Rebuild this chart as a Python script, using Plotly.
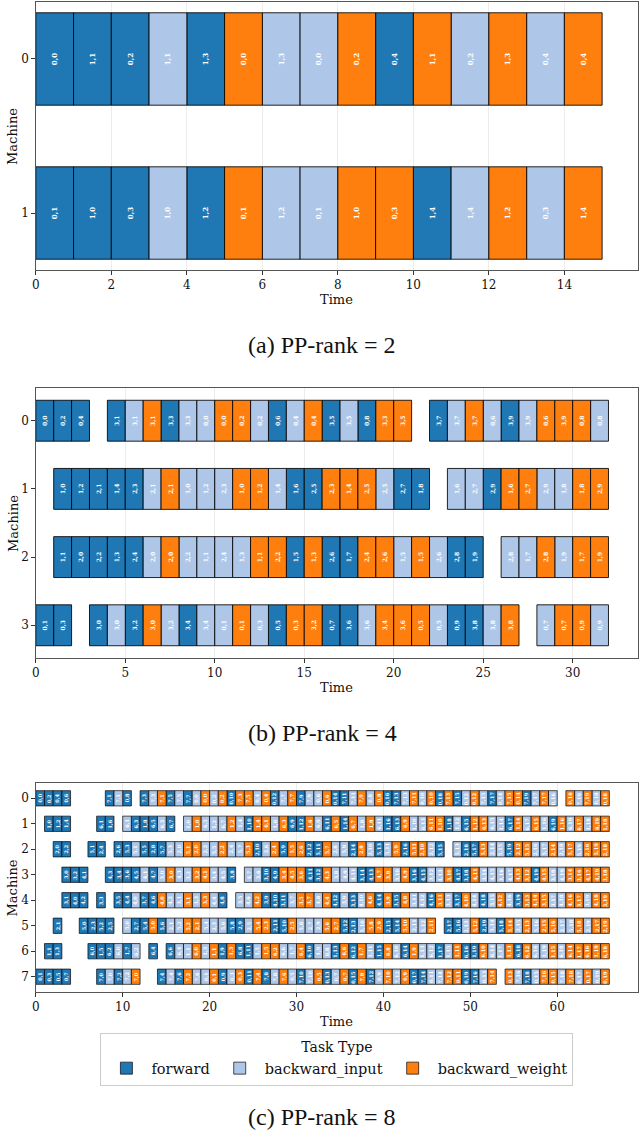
import plotly.graph_objects as go

# ---------------- data ----------------
TYPE_COLORS = {"F": "#1f77b4", "B": "#aec7e8", "W": "#ff7f0e"}
TYPE_NAMES = {"F": "forward", "B": "backward_input", "W": "backward_weight"}
DURATION = 1

# token = <type><stage,microbatch>, "-" = idle slot; one token per time unit
A_M0 = "F0,0 F1,1 F0,2 B1,1 F1,3 W0,0 B1,3 B0,0 W0,2 F0,4 W1,1 B0,2 W1,3 B0,4 W0,4".split()
A_M1 = "F0,1 F1,0 F0,3 B1,0 F1,2 W0,1 B1,2 B0,1 W1,0 W0,3 F1,4 B1,4 W1,2 B0,3 W1,4".split()

B_M0 = ("F0,0 F0,2 F0,4 - F3,1 B3,1 W3,1 F3,3 B3,3 B0,0 W0,0 W0,2 B0,2 F0,6 B0,4 W0,4 "
        "F3,5 B3,5 F0,8 W3,3 W3,5 - F3,7 B3,7 W3,7 B0,6 F3,9 B3,9 W0,6 W3,9 W0,8 B0,8").split()
B_M1 = ("- F1,0 F1,2 F2,1 F1,4 F2,3 B2,1 W2,1 B1,0 B1,2 B2,3 W1,0 W1,2 B1,4 F1,6 F2,5 "
        "W2,3 W1,4 W2,5 B2,5 F2,7 F1,8 - B1,6 B2,7 F2,9 W1,6 W2,7 B2,9 B1,8 W1,8 W2,9").split()
B_M2 = ("- F1,1 F2,0 F2,2 F1,3 F2,4 B2,0 W2,0 B2,2 B1,1 B2,4 B1,3 W1,1 W2,2 F1,5 W1,3 "
        "F2,6 F1,7 W2,4 W2,6 B1,5 W1,5 B2,6 F2,8 F1,9 - B2,8 B1,7 W2,8 B1,9 W1,7 W1,9").split()
B_M3 = ("F0,1 F0,3 - F3,0 B3,0 F3,2 W3,0 B3,2 F3,4 B3,4 B0,1 W0,1 B0,3 F0,5 W0,3 W3,2 "
        "F0,7 F3,6 B3,6 W3,4 W3,6 W0,5 B0,5 F0,9 F3,8 B3,8 W3,8 - B0,7 W0,7 W0,9 B0,9").split()

C_M0 = ("F0,0 F0,2 F0,4 F0,6 - - - - F7,1 B7,1 F0,8 - F7,3 B7,3 W7,1 F7,5 B7,5 F7,7 "
        "B0,0 W0,0 B0,2 W0,2 F0,10 W7,3 W7,5 B0,4 W0,4 F0,12 B7,7 W7,7 F7,9 B7,9 B0,6 W0,6 "
        "F0,14 F7,11 B7,11 W7,9 B0,8 W0,8 F0,16 F7,13 B7,13 W7,11 B0,10 W0,10 F0,18 W7,13 "
        "F7,15 B0,12 W0,12 B7,15 F7,17 B0,14 W7,15 W0,14 F7,19 B7,17 W7,17 B0,16 - W0,16 "
        "B7,19 W7,19 B0,18 W0,18").split()
C_M1 = ("- F1,0 F1,2 F1,4 - - - F6,1 F1,6 - B6,1 F6,3 F1,8 F6,5 B6,3 F6,7 - B1,0 W1,0 "
        "B6,5 B1,2 B6,7 W1,2 B1,4 F1,10 W1,4 W6,1 B1,6 W6,3 F6,9 F1,12 W1,6 B6,9 F6,11 "
        "W6,5 F1,14 W6,7 B1,8 W1,8 B6,11 F1,16 F6,13 W6,9 B1,10 B6,13 W6,11 W1,10 F1,18 "
        "B1,12 F6,15 W1,12 W6,13 B6,15 B1,14 F6,17 W1,14 B6,17 W6,15 B1,16 F6,19 W1,16 "
        "B6,19 W6,17 B1,18 W6,19 W1,18").split()
C_M2 = ("- - F2,0 F2,2 - - F5,1 F2,4 - F2,6 F5,3 B5,1 F5,5 F2,8 F5,7 B5,3 B2,0 W5,1 W2,0 "
        "B2,2 B5,5 W2,2 B2,4 B5,7 W5,3 F2,10 B2,6 W2,4 F5,9 W5,5 W2,6 F2,12 F5,11 W5,7 "
        "B2,8 B5,9 F2,14 W2,8 B2,10 F5,13 B5,11 W5,9 F2,16 W5,11 W2,10 B2,12 F5,15 - "
        "B5,13 F2,18 F5,17 W5,13 B2,14 B5,15 F5,19 W2,12 W5,15 B2,16 B5,17 W2,14 B2,18 "
        "W5,17 B5,19 W2,16 W5,19 W2,18").split()
C_M3 = ("- - - F3,0 F3,2 F4,1 - - F4,3 F3,4 F3,6 F4,5 B4,1 F4,7 B3,0 W3,0 B4,3 B3,2 W3,2 "
        "W4,1 B3,4 B4,5 F3,8 - B4,7 B3,6 F3,10 F4,9 W3,4 W4,5 W3,6 F4,11 F3,12 W4,3 B3,8 "
        "B4,9 B4,11 F3,14 F4,13 W4,7 W3,8 B3,10 W4,9 F3,16 F4,15 B3,12 B4,13 W3,10 F4,17 "
        "F3,18 W4,11 B3,14 B4,15 B3,16 B4,17 W4,13 W3,12 F4,19 W4,15 B3,18 B4,19 W3,14 "
        "W3,16 W4,17 W4,19 W3,18").split()
C_M4 = ("- - - F3,1 F4,0 F4,2 - F3,3 - F3,5 F4,4 B4,0 F3,7 F4,6 W4,0 B4,2 B3,1 W3,1 B3,3 "
        "W3,3 B4,4 F4,8 - B3,5 B4,6 W4,2 F3,9 F4,10 F3,11 B3,7 W3,5 W3,7 B4,8 W4,4 F4,12 "
        "B3,9 F3,13 B4,10 W4,6 F4,14 W3,9 F3,15 W4,8 B3,11 B4,12 F4,16 W3,11 B3,13 F3,17 "
        "W4,10 B4,14 F4,18 B3,15 W4,12 B4,16 F3,19 W3,13 W4,14 W3,15 B3,17 B4,18 W4,16 "
        "W3,17 B3,19 W4,18 W3,19").split()
C_M5 = ("- - F2,1 - - F5,0 F2,3 F5,2 F2,5 - B5,0 F2,7 F5,4 W5,0 F5,6 B2,1 B5,2 W5,2 W2,1 "
        "B5,4 B2,3 B5,6 F5,8 F2,9 B2,5 W5,4 W2,3 F2,11 F5,10 W2,5 B5,8 B2,7 B2,9 W5,6 W2,7 "
        "F5,12 F2,13 B5,10 W5,8 W2,9 F2,15 F5,14 W5,10 B2,11 B5,12 W2,11 - F2,17 F5,16 "
        "B2,13 W5,12 F2,19 B5,14 F5,18 W5,14 B2,15 W2,13 B5,16 W2,15 W5,16 B2,17 B5,18 "
        "W5,18 B2,19 W2,17 W2,19").split()
C_M6 = ("- F1,1 F1,3 - - - F6,0 F1,5 F6,2 B6,0 F1,7 B6,2 - F6,4 - F6,6 B6,4 B1,1 W6,0 "
        "B1,3 W1,1 F1,9 W1,3 F6,8 F1,11 B1,5 W1,5 W6,2 B6,6 B1,7 W6,4 F6,10 B1,9 B6,8 "
        "F1,13 W6,6 F6,12 W1,7 B1,11 F1,15 W6,8 B6,10 F6,14 W1,9 B1,13 B6,12 F1,17 B1,15 "
        "W1,11 F6,16 F1,19 W6,10 B6,14 B1,17 W1,13 F6,18 W6,12 B6,16 B1,19 W1,15 B6,18 "
        "W6,14 W1,17 W6,16 W1,19 W6,18").split()
C_M7 = ("F0,1 F0,3 F0,5 F0,7 - - - F7,0 B7,0 F7,2 B7,2 W7,0 - - F7,4 B7,4 F7,6 W7,2 B7,6 "
        "B0,1 W0,1 F0,9 B0,3 W0,3 F0,11 W7,4 F7,8 B7,8 W7,6 B0,5 F7,10 B7,10 W0,5 F0,13 "
        "B0,7 W0,7 F0,15 W7,8 F7,12 B0,9 W7,10 B7,12 W0,9 F0,17 F7,14 B0,11 B7,14 W7,12 "
        "W0,11 F0,19 F7,16 B0,13 W7,14 - W0,13 B7,16 F7,18 B0,15 W7,16 W0,15 B7,18 W7,18 "
        "B0,17 W0,17 B0,19 W0,19").split()

A_XTICKS = [0, 2, 4, 6, 8, 10, 12, 14]
B_XTICKS = [0, 5, 10, 15, 20, 25, 30]
C_XTICKS = [0, 10, 20, 30, 40, 50, 60]
CAPTIONS = ["(a) PP-rank = 2", "(b) PP-rank = 4", "(c) PP-rank = 8"]

# ---------------- layout helpers ----------------
W, H = 640, 1136
def py(p):  # pixel row -> paper y
    return 1 - p / H
def px(p):
    return p / W

SERIF = "DejaVu Serif"
panels = [
    dict(rows=[A_M0, A_M1], ticks=A_XTICKS, top=2, bottom=270, xr=[0, 15.95],
         ypad=0.37, fs=7, lw=1.0, time_y=299, cap_y=345, ann=False),
    dict(rows=[B_M0, B_M1, B_M2, B_M3], ticks=B_XTICKS, top=388, bottom=658, xr=[0, 33.65],
         ypad=0.48, fs=6, lw=1.0, time_y=687, cap_y=733, ann=False),
    dict(rows=[C_M0, C_M1, C_M2, C_M3, C_M4, C_M5, C_M6, C_M7], ticks=C_XTICKS, top=783,
         bottom=992, xr=[0, 69.3], ypad=0.6, fs=5, lw=0.8, time_y=1021, cap_y=1117, ann=True),
]

fig = go.Figure()
annotations = []
layout_axes = {}
for i, p in enumerate(panels):
    xa = "x" if i == 0 else f"x{i+1}"
    ya = "y" if i == 0 else f"y{i+1}"
    for t in ["F", "B", "W"]:
        ys, bases, texts = [], [], []
        for m, row in enumerate(p["rows"]):
            for s, tok in enumerate(row):
                if tok != "-" and tok[0] == t:
                    ys.append(m)
                    bases.append(s * DURATION)
                    texts.append(tok[1:])
        fig.add_trace(go.Bar(
            orientation="h", y=ys, x=[DURATION] * len(ys), base=bases, width=0.6,
            text=None if p["ann"] else texts, texttemplate=None if p["ann"] else "<b>%{text}</b>",
            textposition="none" if p["ann"] else "inside",
            insidetextanchor="middle", textangle=-90,
            textfont=dict(color="white", size=p["fs"], family=SERIF),
            marker=dict(color=TYPE_COLORS[t], line=dict(color="rgba(0,0,0,0.85)", width=p["lw"])),
            name=TYPE_NAMES[t], legendgroup=t, showlegend=(i == 2),
            xaxis=xa, yaxis=ya, hoverinfo="skip"))
        if p["ann"]:
            for yv, bv, tx in zip(ys, bases, texts):
                annotations.append(dict(text=f"<b>{tx}</b>", x=bv + DURATION / 2, y=yv,
                                        xref=xa, yref=ya, showarrow=False, textangle=-90,
                                        xanchor="center", yanchor="middle",
                                        font=dict(family=SERIF, size=p["fs"], color="white")))
    n = len(p["rows"])
    axis_common = dict(showline=True, mirror=True, linecolor="#555555", linewidth=1,
                       ticks="outside", ticklen=3.5, tickcolor="#333333", zeroline=False,
                       tickfont=dict(family=SERIF, size=12, color="#111111"))
    layout_axes["xaxis" if i == 0 else f"xaxis{i+1}"] = dict(
        domain=[px(32), px(638)], range=p["xr"], tickvals=p["ticks"], anchor=ya,
        showgrid=True, gridcolor="#ececec", gridwidth=1, **axis_common)
    layout_axes["yaxis" if i == 0 else f"yaxis{i+1}"] = dict(
        domain=[py(p["bottom"]), py(p["top"])],
        range=[n - 1 + p["ypad"], -p["ypad"]], tickvals=list(range(n)),
        anchor=xa, showgrid=False, **axis_common)
    ymid = (p["top"] + p["bottom"]) / 2
    annotations.append(dict(text="Machine", x=px(9), y=py(ymid), xref="paper", yref="paper",
                            xanchor="center", yanchor="middle",
                            textangle=-90, showarrow=False, font=dict(family=SERIF, size=13, color="#111")))
    annotations.append(dict(text="Time", x=px(335), y=py(p["time_y"]), xref="paper", yref="paper",
                            xanchor="center", yanchor="middle",
                            showarrow=False, font=dict(family=SERIF, size=13, color="#111")))
    annotations.append(dict(text=CAPTIONS[i], x=px(320), y=py(p["cap_y"]), xref="paper", yref="paper",
                            xanchor="center", yanchor="middle",
                            showarrow=False, font=dict(family="Liberation Serif", size=24, color="#111")))

fig.update_layout(
    width=W, height=H, margin=dict(l=0, r=0, t=0, b=0),
    paper_bgcolor="white", plot_bgcolor="white", barmode="overlay",
    annotations=annotations, showlegend=True,
    legend=dict(orientation="h", x=px(335), xanchor="center", y=py(1033), yanchor="top",
                title=dict(text="Task Type", side="top center", font=dict(family=SERIF, size=14)),
                font=dict(family=SERIF, size=14.5, color="#111"), bordercolor="#cccccc",
                borderwidth=1, bgcolor="white", itemwidth=40, traceorder="normal"),
    **layout_axes)

fig.write_html("out.html", config={"displayModeBar": False},
               post_script="document.body.style.margin='0';")
